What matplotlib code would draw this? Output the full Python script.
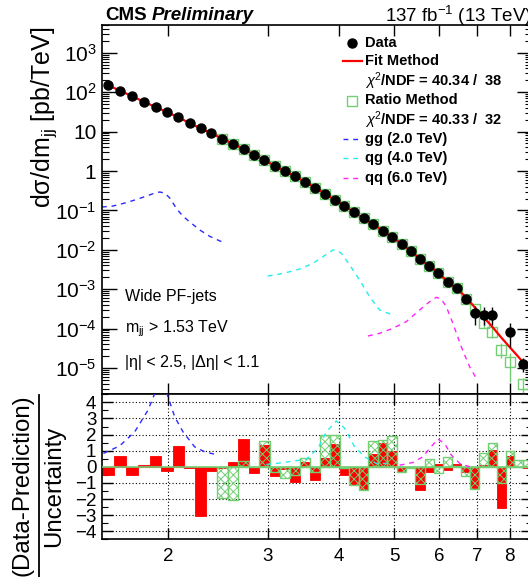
import numpy as np
import matplotlib
matplotlib.use("Agg")
import matplotlib.pyplot as plt
from matplotlib.lines import Line2D
from matplotlib.ticker import FixedLocator, FuncFormatter, NullLocator, MultipleLocator, LogLocator, NullFormatter

plt.rcParams["font.family"] = ["Liberation Sans", "DejaVu Sans"]
plt.rcParams["mathtext.fontset"] = "custom"
plt.rcParams["mathtext.rm"] = "Liberation Sans"
plt.rcParams["mathtext.it"] = "Liberation Sans:italic"
plt.rcParams["mathtext.bf"] = "Liberation Sans:bold"
plt.rcParams["hatch.linewidth"] = 0.7

# dijet mass bin edges [TeV]
edges = [1.530, 1.607, 1.687, 1.770, 1.856, 1.945, 2.037, 2.132, 2.231, 2.332,
         2.438, 2.546, 2.659, 2.775, 2.895, 3.019, 3.147, 3.279, 3.416, 3.558,
         3.704, 3.854, 4.010, 4.171, 4.337, 4.509, 4.686, 4.869, 5.058, 5.253,
         5.455, 5.663, 5.877, 6.099, 6.328, 6.564, 6.808, 7.060, 7.320, 7.589,
         7.866, 8.152, 8.447, 8.752]

# data points (pb/TeV)
data_m = [1.569, 1.647, 1.729, 1.813, 1.901, 1.991, 2.085, 2.182, 2.282, 2.385,
          2.492, 2.603, 2.717, 2.835, 2.957, 3.083, 3.213, 3.348, 3.487, 3.631,
          3.779, 3.932, 4.091, 4.254, 4.423, 4.598, 4.778, 4.964, 5.156, 5.354,
          5.559, 5.770, 5.988, 6.214, 6.446, 6.686, 6.934, 7.190, 7.455, 7.728,
          8.009, 8.45]
data_v = [149.6, 109.2, 78.7, 57.4, 42.1, 31.4, 23.1, 16.5, 12.1, 9.05,
          6.6, 4.93, 3.62, 2.59, 1.90, 1.36, 1.0, 0.733, 0.526, 0.381,
          0.268, 0.184, 0.132, 0.0895, 0.063, 0.0444, 0.0305, 0.0208, 0.0143, 0.00948,
          0.00574, 0.00388, 0.00262, 0.00155, 0.00105, 0.000564, 0.000244, 0.000225, 0.000221, np.nan,
          8.05e-5, 1.26e-5]
data_lo = [np.nan] * 36 + [1.23e-4, 1.23e-4, 1.23e-4, np.nan, 3.47e-5, 7.9e-6]
data_hi = [np.nan] * 36 + [3.75e-4, 3.5e-4, 3.5e-4, np.nan, 1.41e-4, 1.79e-5]

# fit method curve
fit_m = data_m[:41] + [8.30, 8.60]
fit_v = [149.6, 109.2, 78.7, 57.4, 42.1, 31.4, 23.1, 16.5, 12.1, 9.05,
         6.6, 4.93, 3.62, 2.59, 1.90, 1.36, 1.0, 0.733, 0.526, 0.381,
         0.268, 0.184, 0.132, 0.0895, 0.063, 0.0444, 0.0305, 0.0208, 0.0143, 0.00948,
         0.00574, 0.00388, 0.00262, 0.00155, 0.00105, 0.00064, 0.00035, 0.000197, 0.00011, 5.9e-5,
         3.3e-5, 1.85e-5, 1.03e-5]

# ratio method points (from 2.49 TeV)
ratio_m = data_m[10:41] + [8.45]
ratio_v = [6.6, 4.93, 3.62, 2.59, 1.90, 1.36, 1.0, 0.733, 0.526, 0.381,
           0.268, 0.184, 0.132, 0.0895, 0.063, 0.0444, 0.0305, 0.0208, 0.0143, 0.00948,
           0.00574, 0.00388, 0.00262, 0.00155, 0.00105, 0.000564, 3.14e-4, 1.41e-4, 8.05e-5, 2.86e-5,
           1.42e-5, 3.86e-6]
ratio_lo = [np.nan] * 27 + [1.04e-4, 5.8e-5, 1.79e-5, 4.4e-6, 1.0e-7]
ratio_hi = [np.nan] * 27 + [1.86e-4, 1.10e-4, 4.3e-5, 2.4e-5, 5.6e-6]

# signal shapes, top panel
gg_m = [1.529, 1.598, 1.678, 1.748, 1.834, 1.895, 1.934, 1.973, 2.014, 2.072, 2.123, 2.184, 2.274, 2.368, 2.486]
gg_v = [0.122, 0.129, 0.154, 0.184, 0.232, 0.276, 0.293, 0.276, 0.206, 0.109, 0.072, 0.051, 0.032, 0.022, 0.016]
qg_m = [2.996, 3.146, 3.276, 3.411, 3.600, 3.801, 3.904, 3.958, 4.040, 4.178, 4.350, 4.530, 4.717, 4.979]
qg_v = [0.00216, 0.00243, 0.00278, 0.00326, 0.00454, 0.00769, 0.00988, 0.00988, 0.00815, 0.00411,
        0.00171, 0.000645, 0.000297, 0.000221]
qq_m = [4.499, 4.717, 4.979, 5.256, 5.548, 5.777, 5.936, 6.058, 6.182, 6.350, 6.569, 6.795, 6.982]
qq_v = [6.49e-5, 7.6e-5, 1.02e-4, 1.50e-4, 2.97e-4, 4.82e-4, 6.23e-4, 5.64e-4, 3.60e-4, 1.36e-4,
        3.47e-5, 1.08e-5, 5.47e-6]

# pulls, bottom panel
pull_fit = [-0.48, 0.70, -0.54, 0.10, 0.68, -0.23, 1.26, -0.08, -3.06, -0.27,
            -0.05, 0.27, 1.72, -0.37, 1.35, -0.56, -0.15, -0.93, 0.27, -0.85,
            0.52, 1.39, -0.48, -1.10, -1.40, 0.77, 1.45, 0.97, -0.27, -0.03,
            -1.41, -0.31, 0.15, -0.20, 0.15, -0.35, -1.30, 0.10, 1.04, -2.53,
            0.68, -0.03, -0.05]
pull_ratio = [np.nan] * 10 + [
            -1.93, -2.07, 0.39, -0.02, 1.58, -0.30, -0.68, -0.52, 0.52, -0.31,
            1.97, 1.97, -0.05, -1.10, -1.45, 1.59, 1.65, 1.93, -0.35, -0.05,
            -1.04, 0.48, -0.41, 0.60, 0.05, -0.56, -1.40, 0.83, 1.45, -1.00,
            0.99, 0.41, 0.41]

gg_pm = [1.539, 1.644, 1.747, 1.844, 1.890, 1.94, 1.995, 2.055, 2.125, 2.228, 2.321, 2.449]
gg_pv = [0.83, 1.30, 2.17, 3.52, 4.45, 5.6, 4.45, 3.1, 2.17, 1.24, 0.93, 0.73]
qg_pm = [2.980, 3.103, 3.320, 3.505, 3.674, 3.801, 3.958, 4.094, 4.263, 4.439, 4.655, 4.848]
qg_pv = [0.15, 0.21, 0.35, 0.48, 1.14, 2.17, 2.84, 2.39, 1.24, 0.62, 0.21, 0.21]
qq_pm = [5.116, 5.400, 5.623, 5.778, 5.974, 6.139, 6.310, 6.527, 6.795]
qq_pv = [0.10, 0.27, 0.62, 1.14, 1.72, 1.45, 0.73, 0.21, 0.0]

RED = "#ff0000"
GREEN = "#74cf74"
BLUE = "#2a2aff"
CYAN = "#22eeee"
MAGENTA = "#ff22ff"

W, H = 528, 577
fig = plt.figure(figsize=(W / 100, H / 100), dpi=100)
ax = fig.add_axes([102 / W, 1 - 394.3 / H, 430 / W, (394.3 - 25) / H])
axr = fig.add_axes([102 / W, 1 - 539.3 / H, 430 / W, 145 / H])

xlo, xhi = 1.53, 8.752

# ---- top panel ----
ax.set_xscale("log")
ax.set_yscale("log")
ax.set_xlim(xlo, xhi)
ax.set_ylim(10 ** -5.667, 10 ** 3.706)

dash = (0, (3.5, 3.5))
ax.plot(gg_m, gg_v, color=BLUE, lw=1.0, ls=dash, zorder=2)
ax.plot(qg_m, qg_v, color=CYAN, lw=1.0, ls=dash, zorder=2)
ax.plot(qq_m, qq_v, color=MAGENTA, lw=1.0, ls=dash, zorder=2)

rv = np.array(ratio_v)
ax.errorbar(ratio_m, rv,
            yerr=[np.nan_to_num(rv - np.array(ratio_lo)), np.nan_to_num(np.array(ratio_hi) - rv)],
            fmt="s", ms=6.5, mfc="none", mec=GREEN, mew=1.0, ecolor=GREEN, elinewidth=1.0,
            capsize=0, zorder=3)
ax.plot(fit_m, fit_v, color=RED, lw=1.6, zorder=4)
dv = np.array(data_v)
ax.errorbar(data_m, dv,
            yerr=[np.nan_to_num(dv - np.array(data_lo)), np.nan_to_num(np.array(data_hi) - dv)],
            fmt="o", ms=6.5, color="black", elinewidth=1.0, capsize=0, zorder=5)

def ylab(v, pos):
    e = int(round(np.log10(v)))
    if e == 0:
        return "1"
    if e == 1:
        return "10"
    return r"10$^{%d}$" % e

ax.yaxis.set_major_locator(FixedLocator([10.0 ** k for k in range(-5, 4)]))
ax.yaxis.set_major_formatter(FuncFormatter(ylab))
ax.yaxis.set_minor_locator(LogLocator(base=10, subs=np.arange(2, 10), numticks=30))
ax.yaxis.set_minor_formatter(NullFormatter())
ax.xaxis.set_major_locator(FixedLocator([2, 3, 4, 5, 6, 7, 8]))
ax.xaxis.set_minor_locator(NullLocator())
ax.tick_params(axis="both", which="both", direction="in", top=True, right=True,
               labelbottom=False)
ax.tick_params(axis="y", which="major", length=11, width=1.0, labelsize=15, pad=4)
ax.tick_params(axis="y", which="minor", length=5, width=0.8)
ax.tick_params(axis="x", which="major", length=8, width=1.0)
for s in ax.spines.values():
    s.set_linewidth(1.2)

# ---- ratio panel ----
axr.set_xscale("log")
axr.set_xlim(xlo, xhi)
axr.set_ylim(-4.5, 4.5)
e = np.array(edges)
widths = np.diff(e)
axr.bar(e[:-1], pull_fit, width=widths, align="edge", color=RED, edgecolor=RED,
        linewidth=0.6, zorder=2)
axr.bar(e[:-1], pull_ratio, width=widths, align="edge", facecolor="none", edgecolor=GREEN,
        hatch="xxxx", linewidth=1.0, zorder=3)
axr.axhline(0, color=GREEN, lw=1.2, zorder=3)
axr.plot(gg_pm, gg_pv, color=BLUE, lw=1.0, ls=dash, zorder=4)
axr.plot(qg_pm, qg_pv, color=CYAN, lw=1.0, ls=dash, zorder=4)
axr.plot(qq_pm, qq_pv, color=MAGENTA, lw=1.0, ls=dash, zorder=4)

axr.xaxis.set_major_locator(FixedLocator([2, 3, 4, 5, 6, 7, 8]))
axr.xaxis.set_major_formatter(FuncFormatter(lambda v, p: "%d" % round(v)))
axr.xaxis.set_minor_locator(NullLocator())
axr.yaxis.set_major_locator(MultipleLocator(1))
axr.yaxis.set_major_formatter(FuncFormatter(lambda v, p: ("%d" % round(v)).replace("-", "\u2212")))
axr.yaxis.set_minor_locator(MultipleLocator(0.5))
axr.grid(True, which="major", ls=(0, (1, 2)), color="black", lw=0.8)
axr.tick_params(axis="both", which="both", direction="in", top=True, right=True)
axr.tick_params(axis="both", which="major", length=8, width=1.0, labelsize=13.5)
axr.tick_params(axis="y", which="minor", length=4, width=0.8)
axr.tick_params(axis="x", which="major", pad=6)
axr.tick_params(axis="y", which="major", pad=4)
for s in axr.spines.values():
    s.set_linewidth(1.2)

# ---- texts ----
def fx(x):
    return x / W

def fy(y):
    return 1 - y / H

fig.text(fx(105), fy(16), "CMS", fontsize=13.5, fontweight="bold", ha="left", va="center")
fig.text(fx(152), fy(16), "Preliminary", fontsize=13.5, fontweight="bold", style="italic",
         ha="left", va="center")
fig.text(fx(532), fy(16), r"137 fb$^{\mathregular{-1}}$ (13 TeV)", fontsize=13.5,
         ha="right", va="center")

fig.text(fx(44), fy(117), r"d$\mathregular{\sigma}$/dm$_{\mathregular{jj}}$ [pb/TeV]", fontsize=18,
         rotation=90, ha="center", va="center")
fig.text(fx(23), fy(485), "(Data-Prediction)", fontsize=17.3, rotation=90, ha="center", va="center")
fig.text(fx(54), fy(486), "Uncertainty", fontsize=17.3, rotation=90, ha="center", va="center")
fig.add_artist(Line2D([fx(38.5), fx(38.5)], [fy(395), fy(577)], color="black", lw=1.3,
                      transform=fig.transFigure))

fig.text(fx(125), fy(297), "Wide PF-jets", fontsize=11.5, ha="left", va="center")
fig.text(fx(125), fy(329), r"m$_{\mathregular{jj}}$ > 1.53 TeV", fontsize=11.5, ha="left", va="center")
fig.text(fx(125), fy(362), "|η| < 2.5, |Δη| < 1.1", fontsize=11.5, ha="left", va="center")

# legend
leg_y = [42.7, 61.3, 81.3, 100.5, 120, 139.3, 158.3, 177.5]
leg_txt = ["Data", "Fit Method", r"$\chi^{2}$/NDF = 40.34 /  38", "Ratio Method",
           r"$\chi^{2}$/NDF = 40.33 /  32", "gg (2.0 TeV)", "qg (4.0 TeV)", "qq (6.0 TeV)"]
for yy, t in zip(leg_y, leg_txt):
    fig.text(fx(365), fy(yy), t, fontsize=10.5, fontweight="bold", ha="left", va="center")
fig.add_artist(Line2D([fx(352)], [fy(leg_y[0])], marker="o", ms=6.5, color="black",
                      transform=fig.transFigure))
fig.add_artist(Line2D([fx(343), fx(362)], [fy(leg_y[1])] * 2, color=RED, lw=1.6,
                      transform=fig.transFigure))
fig.add_artist(Line2D([fx(352)], [fy(leg_y[3])], marker="s", ms=6.5, mfc="none", mec=GREEN,
                      mew=1.0, transform=fig.transFigure))
for yy, c in zip(leg_y[5:], [BLUE, CYAN, MAGENTA]):
    fig.add_artist(Line2D([fx(343), fx(362)], [fy(yy)] * 2, color=c, lw=1.0, ls=dash,
                          transform=fig.transFigure))

fig.savefig("out.png", dpi=100)
